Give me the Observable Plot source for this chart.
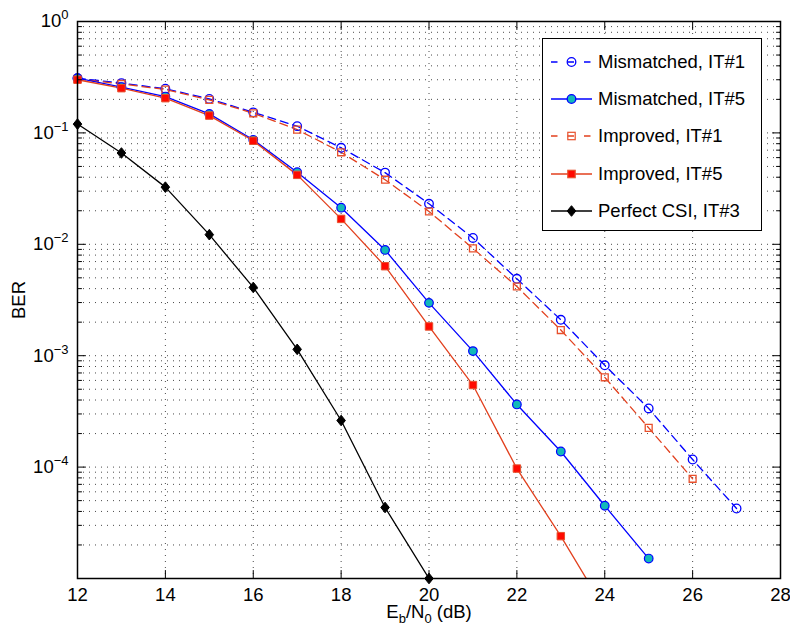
<!DOCTYPE html>
<html><head><meta charset="utf-8">
<script src="https://cdn.jsdelivr.net/npm/d3@7"></script>
<script src="https://cdn.jsdelivr.net/npm/@observablehq/plot@0.6"></script>
<style>
html,body{margin:0;padding:0;background:#fff;overflow:hidden}
#wrap{position:relative;width:790px;height:634px;font-family:"Liberation Sans",Arial,Helvetica,sans-serif}
#wrap svg.plot{position:absolute;left:0;top:0}
#legend{position:absolute;left:542px;top:38px;width:218px;height:191px;border:1px solid #000;background:#fff}
.row{position:absolute;left:0;height:20px;width:218px}
.row svg{position:absolute;left:8px;top:0}
.row span{position:absolute;left:55px;top:0;line-height:20px;font-size:18.5px;white-space:nowrap;color:#000}
</style></head><body><div id="wrap"></div>
<script>
// ---- data ----
const snrMismatchedIT1 = [12,13,14,15,16,17,18,19,20,21,22,23,24,25,26,27];
const berMismatchedIT1 = [0.31,0.28,0.249,0.202,0.153,0.115,0.0735,0.044,0.0231,0.0114,0.0049,0.0021,0.00082,0.000336,0.000117,0.0000425];
const snrMismatchedIT5 = [12,13,14,15,16,17,18,19,20,21,22,23,24,25];
const berMismatchedIT5 = [0.31,0.258,0.212,0.148,0.0867,0.0444,0.0213,0.0089,0.00298,0.0011,0.000365,0.000138,0.000045,0.0000151];
const snrImprovedIT1 = [12,13,14,15,16,17,18,19,20,21,22,23,24,25,26];
const berImprovedIT1 = [0.305,0.275,0.245,0.198,0.150,0.107,0.067,0.038,0.0197,0.0092,0.00418,0.0017,0.00064,0.000225,0.0000785];
const snrImprovedIT5 = [12,13,14,15,16,17,18,19,20,21,22,23,24];
const berImprovedIT5 = [0.30,0.252,0.205,0.143,0.085,0.042,0.0169,0.00636,0.00183,0.000545,0.000097,0.000024,0.0000053];
const snrPerfectIT3 = [12,13,14,15,16,17,18,19,20];
const berPerfectIT3 = [0.12,0.066,0.0326,0.0122,0.0041,0.00114,0.000262,0.0000434,0.00001];

const xTicks = [12,14,16,18,20,22,24,26,28];
const yLabelTicks = [1,0.1,0.01,0.001,0.0001];
const yMajorTicks = [1e-5,1e-4,1e-3,1e-2,1e-1,1];
const yMinorTicks = [2e-5,3e-5,4e-5,5e-5,6e-5,7e-5,8e-5,9e-5,
  2e-4,3e-4,4e-4,5e-4,6e-4,7e-4,8e-4,9e-4,
  2e-3,3e-3,4e-3,5e-3,6e-3,7e-3,8e-3,9e-3,
  2e-2,3e-2,4e-2,5e-2,6e-2,7e-2,8e-2,9e-2,
  0.2,0.3,0.4,0.5,0.6,0.7,0.8,0.9];
const seriesNames = ["Mismatched, IT#1","Mismatched, IT#5","Improved, IT#1","Improved, IT#5","Perfect CSI, IT#3"];
const xLabel = "E_{b}/N_{0} (dB)";
const yLabel = "BER";

// ---- styles ----
const FS = 18.5, FS_SMALL = 13;
const BLUE = "#0000ff", CYAN = "#12b9b9", RED_LINE = "#e2401e", RED_FILL = "#ff0a00", RED_EDGE = "#e8502c";
const diamond = {draw(ctx, size){const r=Math.sqrt(size/Math.PI);const w=r*0.95,h=r*1.18;ctx.moveTo(0,-h);ctx.lineTo(w,0);ctx.lineTo(0,h);ctx.lineTo(-w,0);ctx.closePath();}};
const tickShape = {draw(ctx, l){ctx.moveTo(0,0);ctx.lineTo(0,-l);}};

const zip = (xs, ys) => xs.map((x,i) => ({x, y: ys[i]}));
const dMI1 = zip(snrMismatchedIT1, berMismatchedIT1);
const dMI5 = zip(snrMismatchedIT5, berMismatchedIT5);
const dII1 = zip(snrImprovedIT1, berImprovedIT1);
const dII5 = zip(snrImprovedIT5, berImprovedIT5);
const dP3 = zip(snrPerfectIT3, berPerfectIT3);
const vis = d => d.y >= 1e-5;

const gridStyle = {stroke: "#4a4a4a", strokeOpacity: 1, strokeWidth: 1, strokeDasharray: "1,5"};
const tk = {stroke: "#000", strokeWidth: 1, anchor: "start", shape: tickShape};

const plot = Plot.plot({
  width: 790, height: 634,
  marginLeft: 77, marginRight: 10, marginTop: 21, marginBottom: 56,
  style: {fontFamily: "'Liberation Sans', Arial, Helvetica, sans-serif", fontSize: FS + "px", color: "#000", background: "#fff"},
  x: {domain: [12, 28], label: null},
  y: {type: "log", domain: [1e-5, 1], label: null},
  marks: [
    Plot.gridX(xTicks.slice(1, -1), gridStyle),
    Plot.gridY(yMajorTicks.slice(1, -1).concat(yMinorTicks), gridStyle),
    Plot.axisX(xTicks, {tickSize: 0, tickPadding: 9, label: null, fontSize: FS, tickFormat: d => String(d)}),
    Plot.axisY(yLabelTicks, {tickSize: 0, tickPadding: 9, label: null, fontSize: FS,
      tickFormat: d => { const e = Math.round(Math.log10(d)); return "10^{" + (e < 0 ? "\u2212" + (-e) : String(e)) + "}"; }}),
    // lines
    Plot.line(dMI1, {x: "x", y: "y", stroke: BLUE, strokeWidth: 1.3, strokeDasharray: "8,5", clip: true}),
    Plot.line(dII1, {x: "x", y: "y", stroke: RED_LINE, strokeWidth: 1.3, strokeDasharray: "8,5", clip: true}),
    Plot.line(dMI5, {x: "x", y: "y", stroke: BLUE, strokeWidth: 1.3, clip: true}),
    Plot.line(dII5, {x: "x", y: "y", stroke: RED_LINE, strokeWidth: 1.3, clip: true}),
    Plot.line(dP3, {x: "x", y: "y", stroke: "#000", strokeWidth: 1.3, clip: true}),
    // markers
    Plot.dot(dMI1.filter(vis), {x: "x", y: "y", r: 4.3, fill: "none", stroke: BLUE, strokeWidth: 1.3}),
    Plot.dot(dII1.filter(vis), {x: "x", y: "y", r: 3.9, symbol: "square", fill: "none", stroke: RED_EDGE, strokeWidth: 1.3}),
    Plot.dot(dMI5.filter(vis), {x: "x", y: "y", r: 4.3, fill: CYAN, stroke: BLUE, strokeWidth: 1.2}),
    Plot.dot(dII5.filter(vis), {x: "x", y: "y", r: 4.2, symbol: "square", fill: RED_FILL, stroke: RED_EDGE, strokeWidth: 1}),
    Plot.dot(dP3.filter(vis), {x: "x", y: "y", r: 4.5, symbol: diamond, fill: "#000", stroke: "#000", strokeWidth: 1}),
    // frame and inward ticks
    Plot.frame({stroke: "#000", strokeWidth: 1.5}),
    Plot.vector(yMajorTicks, {...tk, y: d => d, frameAnchor: "left", length: 8, rotate: 90}),
    Plot.vector(yMajorTicks, {...tk, y: d => d, frameAnchor: "right", length: 8, rotate: -90}),
    Plot.vector(yMinorTicks, {...tk, y: d => d, frameAnchor: "left", length: 4, rotate: 90}),
    Plot.vector(yMinorTicks, {...tk, y: d => d, frameAnchor: "right", length: 4, rotate: -90}),
    Plot.vector(xTicks, {...tk, x: d => d, frameAnchor: "bottom", length: 8, rotate: 0}),
    Plot.vector(xTicks, {...tk, x: d => d, frameAnchor: "top", length: 8, rotate: 180}),
    // axis titles
    Plot.text([xLabel], {text: d => d, frameAnchor: "bottom", dy: 39, fontSize: FS, textAnchor: "middle"}),
    Plot.text([yLabel], {text: d => d, frameAnchor: "left", dx: -58, rotate: -90, fontSize: FS, textAnchor: "middle"})
  ]
});
plot.classList.add("plot");

// superscript / subscript rendering for texts like 10^{-1}, E_{b}
function richText(el, str) {
  const re = /([\^_])\{([^}]*)\}/g; const parts = []; let last = 0, m;
  while ((m = re.exec(str))) {
    if (m.index > last) parts.push({t: str.slice(last, m.index), k: null});
    parts.push({t: m[2], k: m[1]}); last = re.lastIndex;
  }
  if (last < str.length) parts.push({t: str.slice(last), k: null});
  el.textContent = ""; let shift = 0;
  for (const p of parts) {
    const ts = document.createElementNS("http://www.w3.org/2000/svg", "tspan");
    const target = p.k === "^" ? -8 : p.k === "_" ? 5 : 0;
    ts.setAttribute("dy", String(target - shift)); shift = target;
    if (p.k) ts.setAttribute("font-size", String(FS_SMALL));
    ts.textContent = p.t; el.appendChild(ts);
  }
}
plot.querySelectorAll("text").forEach(t => { if (/[\^_]\{/.test(t.textContent)) richText(t, t.textContent); });

const wrap = document.getElementById("wrap");
wrap.appendChild(plot);

// legend (inset, upper right)
const legendSpec = [
  {dash: "6.5,10", stroke: BLUE, marker: "circle", fill: "none", edge: BLUE},
  {dash: null, stroke: BLUE, marker: "circle", fill: CYAN, edge: BLUE},
  {dash: "6.5,10", stroke: RED_LINE, marker: "square", fill: "none", edge: RED_EDGE},
  {dash: null, stroke: RED_LINE, marker: "square", fill: RED_FILL, edge: RED_EDGE},
  {dash: null, stroke: "#000", marker: "diamond", fill: "#000", edge: "#000"}
];
const legend = document.createElement("div"); legend.id = "legend";
seriesNames.forEach((name, i) => {
  const s = legendSpec[i];
  const row = document.createElement("div"); row.className = "row"; row.style.top = (13 + i * 37.2) + "px";
  let mk;
  if (s.marker === "circle") mk = `<circle cx="20.5" cy="10" r="4.3" fill="${s.fill}" stroke="${s.edge}" stroke-width="1.3"/>`;
  else if (s.marker === "square") mk = `<rect x="16.8" y="6.3" width="7.4" height="7.4" fill="${s.fill}" stroke="${s.edge}" stroke-width="1.2"/>`;
  else mk = `<path d="M20.5,4.7L24.8,10L20.5,15.3L16.2,10Z" fill="#000" stroke="#000"/>`;
  row.innerHTML = `<svg width="42" height="20"><line x1="0" x2="41" y1="10" y2="10" stroke="${s.stroke}" stroke-width="1.3" ${s.dash ? `stroke-dasharray="${s.dash}"` : ""}/>${mk}</svg><span>${name}</span>`;
  legend.appendChild(row);
});
wrap.appendChild(legend);
</script></body></html>
